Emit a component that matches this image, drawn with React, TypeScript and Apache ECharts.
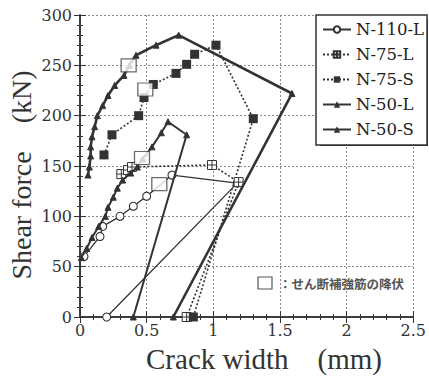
import React, { useEffect, useRef } from "react";
import * as echarts from "echarts";

// Shear force (kN) against crack width (mm) for five specimens,
// each ending with the unloading branch back to zero force.
const seriesNames = ["N-110-L", "N-75-L", "N-75-S", "N-50-L", "N-50-S"];

const n110L: number[][] = [
  [0.03, 60], [0.15, 80], [0.17, 90], [0.3, 100], [0.4, 110], [0.5, 120],
  [0.69, 141], [1.18, 133], [0.2, 0],
];

const n75L: number[][] = [
  [0.31, 142], [0.36, 146], [0.39, 149], [0.99, 151], [1.19, 134], [0.8, 0],
];

const n75S: number[][] = [
  [0.18, 161], [0.24, 181], [0.44, 200], [0.48, 218], [0.55, 231], [0.72, 242],
  [0.8, 251], [0.86, 261], [1.02, 270], [1.3, 197], [0.85, 0],
];

const n50L: number[][] = [
  [0.01, 59], [0.05, 68], [0.09, 79], [0.14, 90], [0.19, 100], [0.21, 109],
  [0.25, 119], [0.28, 128], [0.32, 136], [0.38, 143], [0.43, 149], [0.47, 157],
  [0.54, 169], [0.61, 183], [0.66, 194], [0.8, 181], [0.4, 0],
];

const n50S: number[][] = [
  [0.06, 141], [0.07, 149], [0.08, 160], [0.08, 169], [0.09, 179], [0.11, 189],
  [0.13, 200], [0.17, 210], [0.21, 220], [0.26, 230], [0.33, 240], [0.37, 250],
  [0.42, 260], [0.57, 270], [0.74, 280], [1.59, 222], [0.7, 0],
];

// Points where the shear reinforcement yields
const yieldPoints: number[][] = [
  [0.365, 250], [0.49, 226], [0.465, 158], [0.595, 132],
];

const xMin = 0;
const xMax = 2.5;
const xStep = 0.5;
const yMin = 0;
const yMax = 300;
const yStep = 50;

const xTitle = "Crack width\u3000(mm)";
const yTitle = "Shear force\u3000(kN)";
const yieldNote = "：せん断補強筋の降伏";

const INK = "#333";
const SERIF = "Liberation Serif";
const WIDE_SERIF = "DejaVu Serif";
const CROSS_SQUARE = "path://M0 0H10V10H0ZM5 0V10M0 5H10";

export default function App() {
  const ref = useRef<HTMLDivElement>(null);

  useEffect(() => {
    if (!ref.current) return;
    const chart = echarts.init(ref.current, undefined, { renderer: "svg" });

    const gridLine = { show: true, lineStyle: { color: "#888", width: 1, type: [2, 2] as any } };
    const axisLine = { show: true, lineStyle: { color: INK, width: 1.5 } };
    const tick = { show: true, inside: true, length: 6, lineStyle: { color: INK, width: 1 } };
    const minor = { show: true, splitNumber: 5, length: 3, lineStyle: { color: INK, width: 1 } };
    const tickLabel = { fontFamily: WIDE_SERIF, fontSize: 16, color: INK };

    const solid = (w: number) => ({ color: INK, width: w, type: "solid" as const });
    const dotted = { color: INK, width: 1.6, type: [2, 2] as any };

    chart.setOption({
      animation: false,
      backgroundColor: "#fff",
      grid: { left: 80, right: 13, top: 15, bottom: 59 },
      xAxis: [
        {
          type: "value", min: xMin, max: xMax, interval: xStep,
          axisLine, axisTick: tick, minorTick: minor, splitLine: gridLine,
          axisLabel: { ...tickLabel, margin: 5 },
        },
        {
          type: "value", position: "top", min: xMin, max: xMax, interval: xStep,
          axisLine, axisTick: tick, minorTick: minor, splitLine: { show: false },
          axisLabel: { show: false },
        },
      ],
      yAxis: [
        {
          type: "value", min: yMin, max: yMax, interval: yStep,
          axisLine, axisTick: tick, minorTick: minor, splitLine: gridLine,
          axisLabel: { ...tickLabel, margin: 8 },
        },
        {
          type: "value", position: "right", min: yMin, max: yMax, interval: yStep,
          axisLine, axisTick: tick, minorTick: minor, splitLine: { show: false },
          axisLabel: { show: false },
        },
      ],
      legend: {
        data: seriesNames,
        orient: "vertical",
        left: 316,
        top: 15,
        padding: [6, 3, 7, 6],
        itemGap: 8,
        itemWidth: 28,
        itemHeight: 8,
        backgroundColor: "#fff",
        borderColor: INK,
        borderWidth: 1.5,
        textStyle: { fontFamily: WIDE_SERIF, fontSize: 16.5, color: "#222" },
        z: 10,
      },
      graphic: [
        // drop shadow behind the legend box
        { type: "rect", shape: { x: 320, y: 19, width: 108, height: 127 }, style: { fill: "#3a3a3a" }, z: 9 },
        {
          type: "text", x: 21, y: 175, rotation: Math.PI / 2,
          style: { text: yTitle, fontFamily: SERIF, fontSize: 28, fill: INK, align: "center", verticalAlign: "middle" },
        },
        {
          type: "text", x: 264, y: 359,
          style: { text: xTitle, fontFamily: SERIF, fontSize: 29, fill: INK, align: "center", verticalAlign: "middle" },
        },
        {
          type: "rect", shape: { x: 258, y: 277, width: 14, height: 12 },
          style: { fill: "#fff", stroke: "#555", lineWidth: 1.2 },
        },
        {
          type: "text", x: 279, y: 283,
          style: { text: yieldNote, fontFamily: "Noto Sans CJK JP", fontWeight: "bold", fontSize: 12.5, fill: "#555", verticalAlign: "middle" },
        },
      ],
      series: [
        {
          name: seriesNames[0], type: "line", data: n110L, symbol: "circle", symbolSize: 8,
          lineStyle: solid(1.3), itemStyle: { color: "#fff", borderColor: INK, borderWidth: 1.1 }, z: 3,
        },
        {
          name: seriesNames[1], type: "line", data: n75L, symbol: CROSS_SQUARE, symbolSize: 9,
          lineStyle: dotted, itemStyle: { color: "#fff", borderColor: INK, borderWidth: 1 }, z: 3,
        },
        {
          name: seriesNames[2], type: "line", data: n75S, symbol: "rect", symbolSize: 9,
          lineStyle: dotted, itemStyle: { color: INK, borderColor: INK, borderWidth: 0 }, z: 3,
        },
        {
          name: seriesNames[3], type: "line", data: n50L, symbol: "triangle", symbolSize: 6,
          lineStyle: solid(2), itemStyle: { color: INK, borderColor: INK }, z: 4,
        },
        {
          name: seriesNames[4], type: "line", data: n50S, symbol: "triangle", symbolSize: 6,
          lineStyle: solid(2.6), itemStyle: { color: INK, borderColor: INK }, z: 4,
        },
        {
          name: "yield", type: "scatter", data: yieldPoints, symbol: "rect", symbolSize: [15, 13],
          itemStyle: { color: "#fff", borderColor: "#444", borderWidth: 1.2 }, z: 6,
        },
      ],
    });

    return () => chart.dispose();
  }, []);

  return <div ref={ref} style={{ position: "fixed", left: 0, top: 0, width: 429, height: 376 }} />;
}
